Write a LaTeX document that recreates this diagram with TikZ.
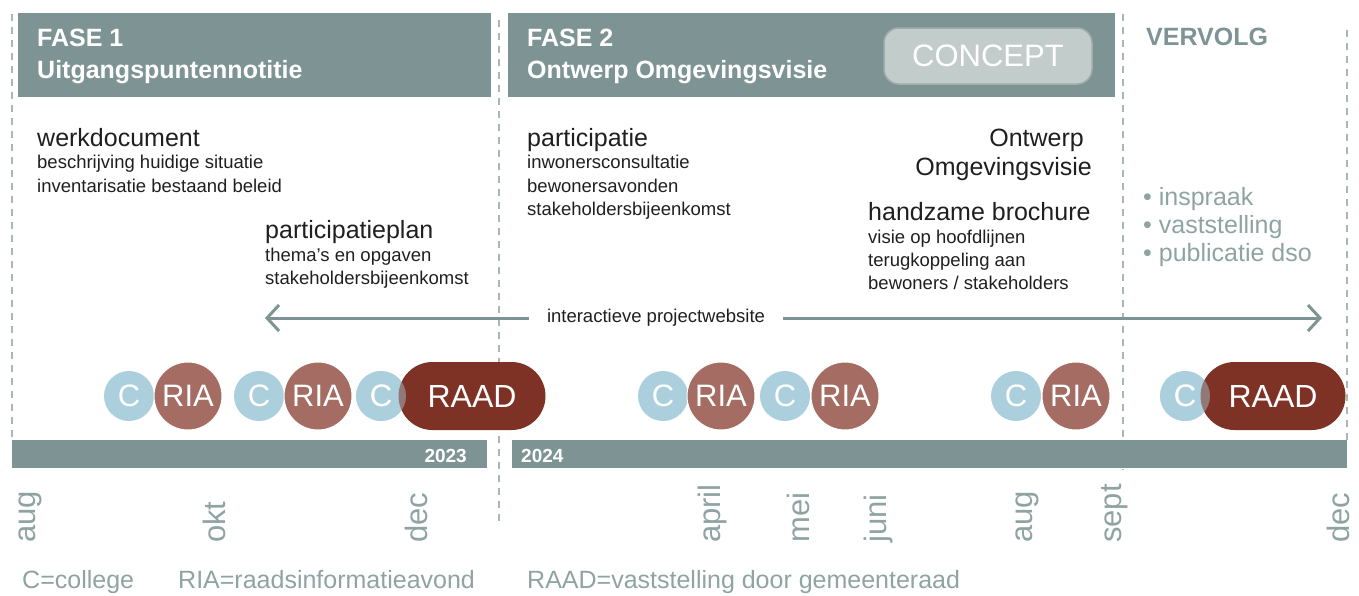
\documentclass[tikz,border=0pt]{standalone}
\usepackage{fontspec}
\setmainfont{Liberation Sans}
\usetikzlibrary{positioning,arrows.meta,shapes.misc}
\definecolor{phasegray}{HTML}{7E9494}
\definecolor{conceptfill}{HTML}{C2CCCB}
\definecolor{conceptline}{HTML}{9DAEAD}
\definecolor{dashgray}{HTML}{A9B7B7}
\definecolor{softteal}{HTML}{8FA3A3}
\definecolor{txtdark}{HTML}{1F1F1F}
\definecolor{cblue}{HTML}{ABCFDC}
\definecolor{riared}{HTML}{A46C62}
\definecolor{raadred}{HTML}{7E3225}
\newcommand{\pxfont}[1]{\fontsize{#1}{#1}\selectfont}

\begin{document}
\begin{tikzpicture}[x=1pt,y=-1pt,
    colline/.style={dashgray, line width=2pt, dash pattern=on 7pt off 6pt},
    phasebox/.style={fill=phasegray, anchor=north west, minimum height=84pt, inner sep=0pt},
    headtxt/.style={anchor=base west, inner sep=0pt, text=white, font=\bfseries\pxfont{25}},
    bigtxt/.style={anchor=base west, inner sep=0pt, text=txtdark, font=\pxfont{25}},
    smalltxt/.style={anchor=base west, inner sep=0pt, text=txtdark, font=\pxfont{18.5}},
    bullettxt/.style={anchor=base west, inner sep=0pt, text=softteal, font=\pxfont{25}},
    month/.style={rotate=90, anchor=west, inner sep=0pt, text=softteal, font=\pxfont{31}},
    legendtxt/.style={anchor=base west, inner sep=0pt, text=softteal, font=\pxfont{25}},
    barbox/.style={fill=phasegray, anchor=north west, minimum height=28pt, inner sep=0pt},
    bartxt/.style={anchor=base west, inner sep=0pt, text=white, font=\bfseries\pxfont{19}},
    cbub/.style={circle, fill=cblue, minimum size=50pt, inner sep=0pt, text=white, font=\pxfont{31}},
    riabub/.style={circle, fill=riared, draw=white, line width=1pt, minimum size=68pt, inner sep=0pt, text=white, font=\pxfont{31}},
    raadbub/.style={rounded rectangle, fill=raadred, minimum height=68pt, inner sep=0pt, text=white, font=\pxfont{32}},
    ghost/.style={fill opacity=0.45, text opacity=1},
    webarrow/.style={phasegray, line width=3pt, -{Straight Barb[length=12pt,width=26pt]}}]
  \useasboundingbox (0,0) rectangle (1359,595);

  % Columns
  \draw[colline] (12,14) -- (12,440);
  \draw[colline] (499,20) -- (499,525);
  \draw[colline] (1123,14) -- (1123,470);
  \draw[colline] (1347,30) -- (1347,440);

  % Phase headers
  \node[phasebox, minimum width=473pt] (fase1) at (18,13) {};
  \node[phasebox, minimum width=607pt] (fase2) at (508,13) {};
  \node[headtxt] (fase1nr) at (37,46) {FASE 1};
  \node[headtxt] (fase1name) at (37,78) {Uitgangspuntennotitie};
  \node[headtxt] (fase2nr) at (527,46) {FASE 2};
  \node[headtxt] (fase2name) at (527,78) {Ontwerp Omgevingsvisie};
  \node[rounded corners=15pt, fill=conceptfill, draw=conceptline, line width=1.5pt,
    minimum width=208pt, minimum height=56pt, inner sep=0pt, text=white, font=\pxfont{31}]
    (concept) at (988,56) {CONCEPT};
  \node[headtxt, text=phasegray] (vervolg) at (1146,45) {VERVOLG};

  % Fase 1
  \node[bigtxt] (werk) at (37,146) {werkdocument};
  \node[smalltxt] (werk1) at (37,168) {beschrijving huidige situatie};
  \node[smalltxt] (werk2) at (37,192) {inventarisatie bestaand beleid};
  \node[bigtxt] (plan) at (265,238) {participatieplan};
  \node[smalltxt] (plan1) at (265,261) {thema's en opgaven};
  \node[smalltxt] (plan2) at (265,284) {stakeholdersbijeenkomst};

  % Fase 2
  \node[bigtxt] (part) at (527,146) {participatie};
  \node[smalltxt] (part1) at (527,168) {inwonersconsultatie};
  \node[smalltxt] (part2) at (527,192) {bewonersavonden};
  \node[smalltxt] (part3) at (527,215) {stakeholdersbijeenkomst};
  \node[bigtxt, anchor=base east] (ontw1) at (1084,146) {Ontwerp};
  \node[bigtxt, anchor=base east] (ontw2) at (1092,175) {Omgevingsvisie};
  \node[bigtxt] (broch) at (868,220) {handzame brochure};
  \node[smalltxt] (broch1) at (868,243) {visie op hoofdlijnen};
  \node[smalltxt] (broch2) at (868,266) {terugkoppeling aan};
  \node[smalltxt] (broch3) at (868,289) {bewoners / stakeholders};

  % Vervolg
  \node[bullettxt] (inspr) at (1143,205) {\textbullet\ inspraak};
  \node[bullettxt] (vastst) at (1143,233) {\textbullet\ vaststelling};
  \node[bullettxt] (publ) at (1143,261) {\textbullet\ publicatie dso};

  % Website
  \coordinate (webL) at (265,318);
  \coordinate (webR) at (1322,318);
  \node[inner xsep=18pt, inner ysep=0pt, font=\pxfont{18.5}, text=txtdark] (web) at (656,318) {interactieve projectwebsite};
  \draw[webarrow] (web.west) -- (webL);
  \draw[webarrow] (web.east) -- (webR);

  % Meetings
  \node[cbub] (c1) at (129,396) {C};
  \node[riabub] (ria1) at (188,396) {RIA};
  \node[cbub] (c2) at (259,396) {C};
  \node[riabub] (ria2) at (318,396) {RIA};
  \node[cbub] (c3) at (381,396) {C};
  \node[raadbub, minimum width=147pt] (raad1) at (472,396) {RAAD};
  \node[cbub, ghost] at (c3) {C};
  \node[cbub] (c4) at (663,396) {C};
  \node[riabub] (ria3) at (721,396) {RIA};
  \node[cbub] (c5) at (785,396) {C};
  \node[riabub] (ria4) at (845,396) {RIA};
  \node[cbub] (c6) at (1016,396) {C};
  \node[riabub] (ria5) at (1076,396) {RIA};
  \node[cbub] (c7) at (1185,396) {C};
  \node[raadbub, minimum width=145pt] (raad2) at (1273,396) {RAAD};
  \node[cbub, ghost] at (c7) {C};

  % Timeline
  \node[barbox, minimum width=475pt] (bar23) at (12,440) {};
  \node[bartxt, anchor=base east] (y23) at (467,462) {2023};
  \node[barbox, minimum width=835pt] (bar24) at (512,440) {};
  \node[bartxt] (y24) at (521,462) {2024};
  \foreach \x/\m in {30/aug, 214/okt, 416/dec, 712/april, 798/mei, 878/juni, 1027/aug, 1115/sept, 1338/dec}
    \node[month] (m\x) at (\x,543) {\m};

  % Legend
  \node[legendtxt] (legc) at (22,588) {C=college};
  \node[legendtxt] (legria) at (178,588) {RIA=raadsinformatieavond};
  \node[legendtxt] (legraad) at (527,588) {RAAD=vaststelling door gemeenteraad};
\end{tikzpicture}
\end{document}
